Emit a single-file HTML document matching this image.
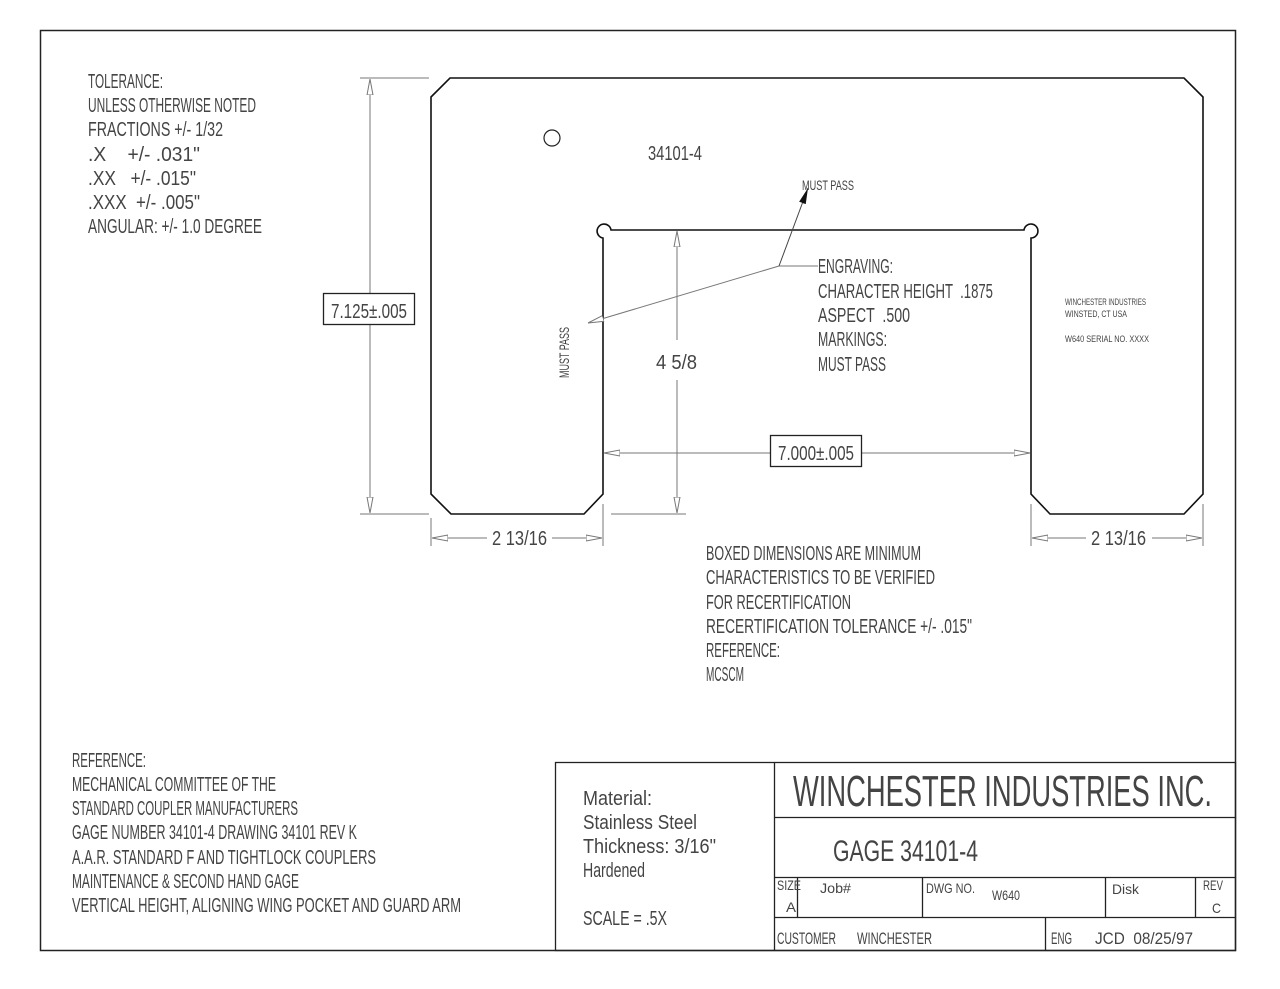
<!DOCTYPE html>
<html><head><meta charset="utf-8"><style>
html,body{margin:0;padding:0;background:#fff;}
svg{display:block;}
text{font-family:"Liberation Sans",sans-serif;fill:#444;}
</style></head><body>
<svg width="1280" height="989" viewBox="0 0 1280 989" xmlns="http://www.w3.org/2000/svg">
<defs>
<marker id="oa" viewBox="0 0 16 8" refX="16" refY="4" markerWidth="16" markerHeight="8" orient="auto-start-reverse" markerUnits="userSpaceOnUse"><path d="M16,4 L0,1 L0,7 Z" fill="#fff" stroke="#777" stroke-width="1"/></marker>
<marker id="fa" viewBox="0 0 16 8" refX="16" refY="4" markerWidth="16" markerHeight="8" orient="auto-start-reverse" markerUnits="userSpaceOnUse"><path d="M16,4 L0,0.5 L0,7.5 Z" fill="#111"/></marker>
</defs>
<rect x="40.5" y="30.5" width="1195" height="920" fill="none" stroke="#222" stroke-width="1.5"/>
<path d="M431,97 L450,78 L1184,78 L1203,97 L1203,494 L1184,514 L1050,514 L1031,494 L1031,238 A7,7 0 1 0 1024,230 L611,230 A7,7 0 1 0 603,238 L603,494 L584,514 L451,514 L431,494 Z" fill="none" stroke="#111" stroke-width="1.6"/>
<circle cx="552" cy="138" r="8" fill="none" stroke="#222" stroke-width="1.2"/>
<g stroke="#777" stroke-width="1" fill="none">
<line x1="360" y1="78" x2="429" y2="78"/>
<line x1="360" y1="514" x2="429" y2="514"/>
<line x1="370" y1="79" x2="370" y2="293" marker-start="url(#oa)"/>
<line x1="370" y1="324" x2="370" y2="513" marker-end="url(#oa)"/>
<line x1="677" y1="231" x2="677" y2="340" marker-start="url(#oa)"/>
<line x1="677" y1="380" x2="677" y2="513" marker-end="url(#oa)"/>
<line x1="611" y1="514" x2="686" y2="514"/>
<line x1="604" y1="453" x2="770" y2="453" marker-start="url(#oa)"/>
<line x1="861" y1="453" x2="1030" y2="453" marker-end="url(#oa)"/>
<line x1="431" y1="518" x2="431" y2="546"/>
<line x1="603" y1="504" x2="603" y2="546"/>
<line x1="432" y1="538" x2="487" y2="538" marker-start="url(#oa)"/>
<line x1="552" y1="538" x2="602" y2="538" marker-end="url(#oa)"/>
<line x1="1031" y1="504" x2="1031" y2="546"/>
<line x1="1203" y1="504" x2="1203" y2="546"/>
<line x1="1032" y1="538" x2="1086" y2="538" marker-start="url(#oa)"/>
<line x1="1152" y1="538" x2="1202" y2="538" marker-end="url(#oa)"/>
<line x1="779" y1="266" x2="818" y2="266"/>
<line x1="779" y1="266" x2="588" y2="323" marker-end="url(#oa)"/>
<line x1="779" y1="266" x2="808" y2="188" stroke="#444" marker-end="url(#fa)"/>
</g>
<rect x="323.5" y="293.5" width="91" height="31" fill="#fff" stroke="#222" stroke-width="1.3"/>
<rect x="770.5" y="435.5" width="91" height="31" fill="#fff" stroke="#222" stroke-width="1.3"/>
<g font-size="20">
<text x="331" y="318" textLength="76" lengthAdjust="spacingAndGlyphs">7.125±.005</text>
<text x="778" y="460" textLength="76" lengthAdjust="spacingAndGlyphs">7.000±.005</text>
<text x="656" y="369" textLength="41" lengthAdjust="spacingAndGlyphs">4 5/8</text>
<text x="492" y="545" textLength="55" lengthAdjust="spacingAndGlyphs">2 13/16</text>
<text x="1091" y="545" textLength="55" lengthAdjust="spacingAndGlyphs">2 13/16</text>
<text x="648" y="160" textLength="54" lengthAdjust="spacingAndGlyphs">34101-4</text>
<text x="88" y="88" textLength="75" lengthAdjust="spacingAndGlyphs">TOLERANCE:</text>
<text x="88" y="112" textLength="168" lengthAdjust="spacingAndGlyphs">UNLESS OTHERWISE NOTED</text>
<text x="88" y="136" textLength="135" lengthAdjust="spacingAndGlyphs">FRACTIONS +/- 1/32</text>
<text x="88" y="161" textLength="112" lengthAdjust="spacingAndGlyphs" xml:space="preserve">.X    +/- .031"</text>
<text x="88" y="185" textLength="108" lengthAdjust="spacingAndGlyphs" xml:space="preserve">.XX   +/- .015"</text>
<text x="88" y="209" textLength="112" lengthAdjust="spacingAndGlyphs" xml:space="preserve">.XXX  +/- .005"</text>
<text x="88" y="233" textLength="174" lengthAdjust="spacingAndGlyphs">ANGULAR: +/- 1.0 DEGREE</text>
<text x="818" y="273" textLength="75" lengthAdjust="spacingAndGlyphs">ENGRAVING:</text>
<text x="818" y="298" textLength="175" lengthAdjust="spacingAndGlyphs" xml:space="preserve">CHARACTER HEIGHT  .1875</text>
<text x="818" y="322" textLength="92" lengthAdjust="spacingAndGlyphs" xml:space="preserve">ASPECT  .500</text>
<text x="818" y="346" textLength="69" lengthAdjust="spacingAndGlyphs">MARKINGS:</text>
<text x="818" y="371" textLength="68" lengthAdjust="spacingAndGlyphs">MUST PASS</text>
<text x="706" y="560" textLength="215" lengthAdjust="spacingAndGlyphs">BOXED DIMENSIONS ARE MINIMUM</text>
<text x="706" y="584" textLength="229" lengthAdjust="spacingAndGlyphs">CHARACTERISTICS TO BE VERIFIED</text>
<text x="706" y="609" textLength="145" lengthAdjust="spacingAndGlyphs">FOR RECERTIFICATION</text>
<text x="706" y="633" textLength="266" lengthAdjust="spacingAndGlyphs">RECERTIFICATION TOLERANCE +/- .015"</text>
<text x="706" y="657" textLength="74" lengthAdjust="spacingAndGlyphs">REFERENCE:</text>
<text x="706" y="681" textLength="38" lengthAdjust="spacingAndGlyphs">MCSCM</text>
<text x="72" y="767" textLength="74" lengthAdjust="spacingAndGlyphs">REFERENCE:</text>
<text x="72" y="791" textLength="204" lengthAdjust="spacingAndGlyphs">MECHANICAL COMMITTEE OF THE</text>
<text x="72" y="815" textLength="226" lengthAdjust="spacingAndGlyphs">STANDARD COUPLER MANUFACTURERS</text>
<text x="72" y="839" textLength="285" lengthAdjust="spacingAndGlyphs">GAGE NUMBER 34101-4 DRAWING 34101 REV K</text>
<text x="72" y="864" textLength="304" lengthAdjust="spacingAndGlyphs">A.A.R. STANDARD F AND TIGHTLOCK COUPLERS</text>
<text x="72" y="888" textLength="227" lengthAdjust="spacingAndGlyphs">MAINTENANCE &amp; SECOND HAND GAGE</text>
<text x="72" y="912" textLength="389" lengthAdjust="spacingAndGlyphs">VERTICAL HEIGHT, ALIGNING WING POCKET AND GUARD ARM</text>
<text x="583" y="805" textLength="69" lengthAdjust="spacingAndGlyphs">Material:</text>
<text x="583" y="829" textLength="114" lengthAdjust="spacingAndGlyphs">Stainless Steel</text>
<text x="583" y="853" textLength="133" lengthAdjust="spacingAndGlyphs">Thickness: 3/16"</text>
<text x="583" y="877" textLength="62" lengthAdjust="spacingAndGlyphs">Hardened</text>
<text x="583" y="925" textLength="84" lengthAdjust="spacingAndGlyphs">SCALE = .5X</text>
</g>
<g font-size="14">
<text x="802" y="190" textLength="52" lengthAdjust="spacingAndGlyphs">MUST PASS</text>
<text transform="translate(569,378) rotate(-90)" textLength="51" lengthAdjust="spacingAndGlyphs">MUST PASS</text>
</g>
<g font-size="9">
<text x="1065" y="305" textLength="81" lengthAdjust="spacingAndGlyphs">WINCHESTER INDUSTRIES</text>
<text x="1065" y="317" textLength="62" lengthAdjust="spacingAndGlyphs">WINSTED, CT  USA</text>
<text x="1065" y="342" textLength="84" lengthAdjust="spacingAndGlyphs">W640  SERIAL NO.  XXXX</text>
</g>
<g stroke="#222" stroke-width="1.3" fill="none">
<rect x="555.5" y="762.5" width="680" height="188"/>
<line x1="774.5" y1="762" x2="774.5" y2="950"/>
<line x1="774" y1="817.5" x2="1236" y2="817.5"/>
<line x1="774" y1="877.5" x2="1236" y2="877.5"/>
<line x1="774" y1="917.5" x2="1236" y2="917.5"/>
<line x1="797.5" y1="877" x2="797.5" y2="917"/>
<line x1="922.5" y1="877" x2="922.5" y2="917"/>
<line x1="1105.5" y1="877" x2="1105.5" y2="917"/>
<line x1="1195.5" y1="877" x2="1195.5" y2="917"/>
<line x1="1045.5" y1="917" x2="1045.5" y2="950"/>
</g>
<text x="793" y="806" font-size="44" textLength="419" lengthAdjust="spacingAndGlyphs">WINCHESTER INDUSTRIES INC.</text>
<text x="833" y="861" font-size="30" textLength="145" lengthAdjust="spacingAndGlyphs">GAGE 34101-4</text>
<g font-size="14">
<text x="777" y="890" textLength="24" lengthAdjust="spacingAndGlyphs">SIZE</text>
<text x="786" y="912" textLength="10" lengthAdjust="spacingAndGlyphs">A</text>
<text x="820" y="893" textLength="31" lengthAdjust="spacingAndGlyphs">Job#</text>
<text x="926" y="893" textLength="49" lengthAdjust="spacingAndGlyphs">DWG NO.</text>
<text x="992" y="900" textLength="28" lengthAdjust="spacingAndGlyphs">W640</text>
<text x="1112" y="894" textLength="27" lengthAdjust="spacingAndGlyphs">Disk</text>
<text x="1203" y="890" textLength="20" lengthAdjust="spacingAndGlyphs">REV</text>
<text x="1212" y="913" textLength="9" lengthAdjust="spacingAndGlyphs">C</text>
</g>
<g font-size="17">
<text x="777" y="944" textLength="59" lengthAdjust="spacingAndGlyphs">CUSTOMER</text>
<text x="857" y="944" textLength="75" lengthAdjust="spacingAndGlyphs">WINCHESTER</text>
<text x="1051" y="944" textLength="21" lengthAdjust="spacingAndGlyphs">ENG</text>
<text x="1095" y="944" textLength="98" lengthAdjust="spacingAndGlyphs" xml:space="preserve">JCD  08/25/97</text>
</g>
</svg>
</body></html>
